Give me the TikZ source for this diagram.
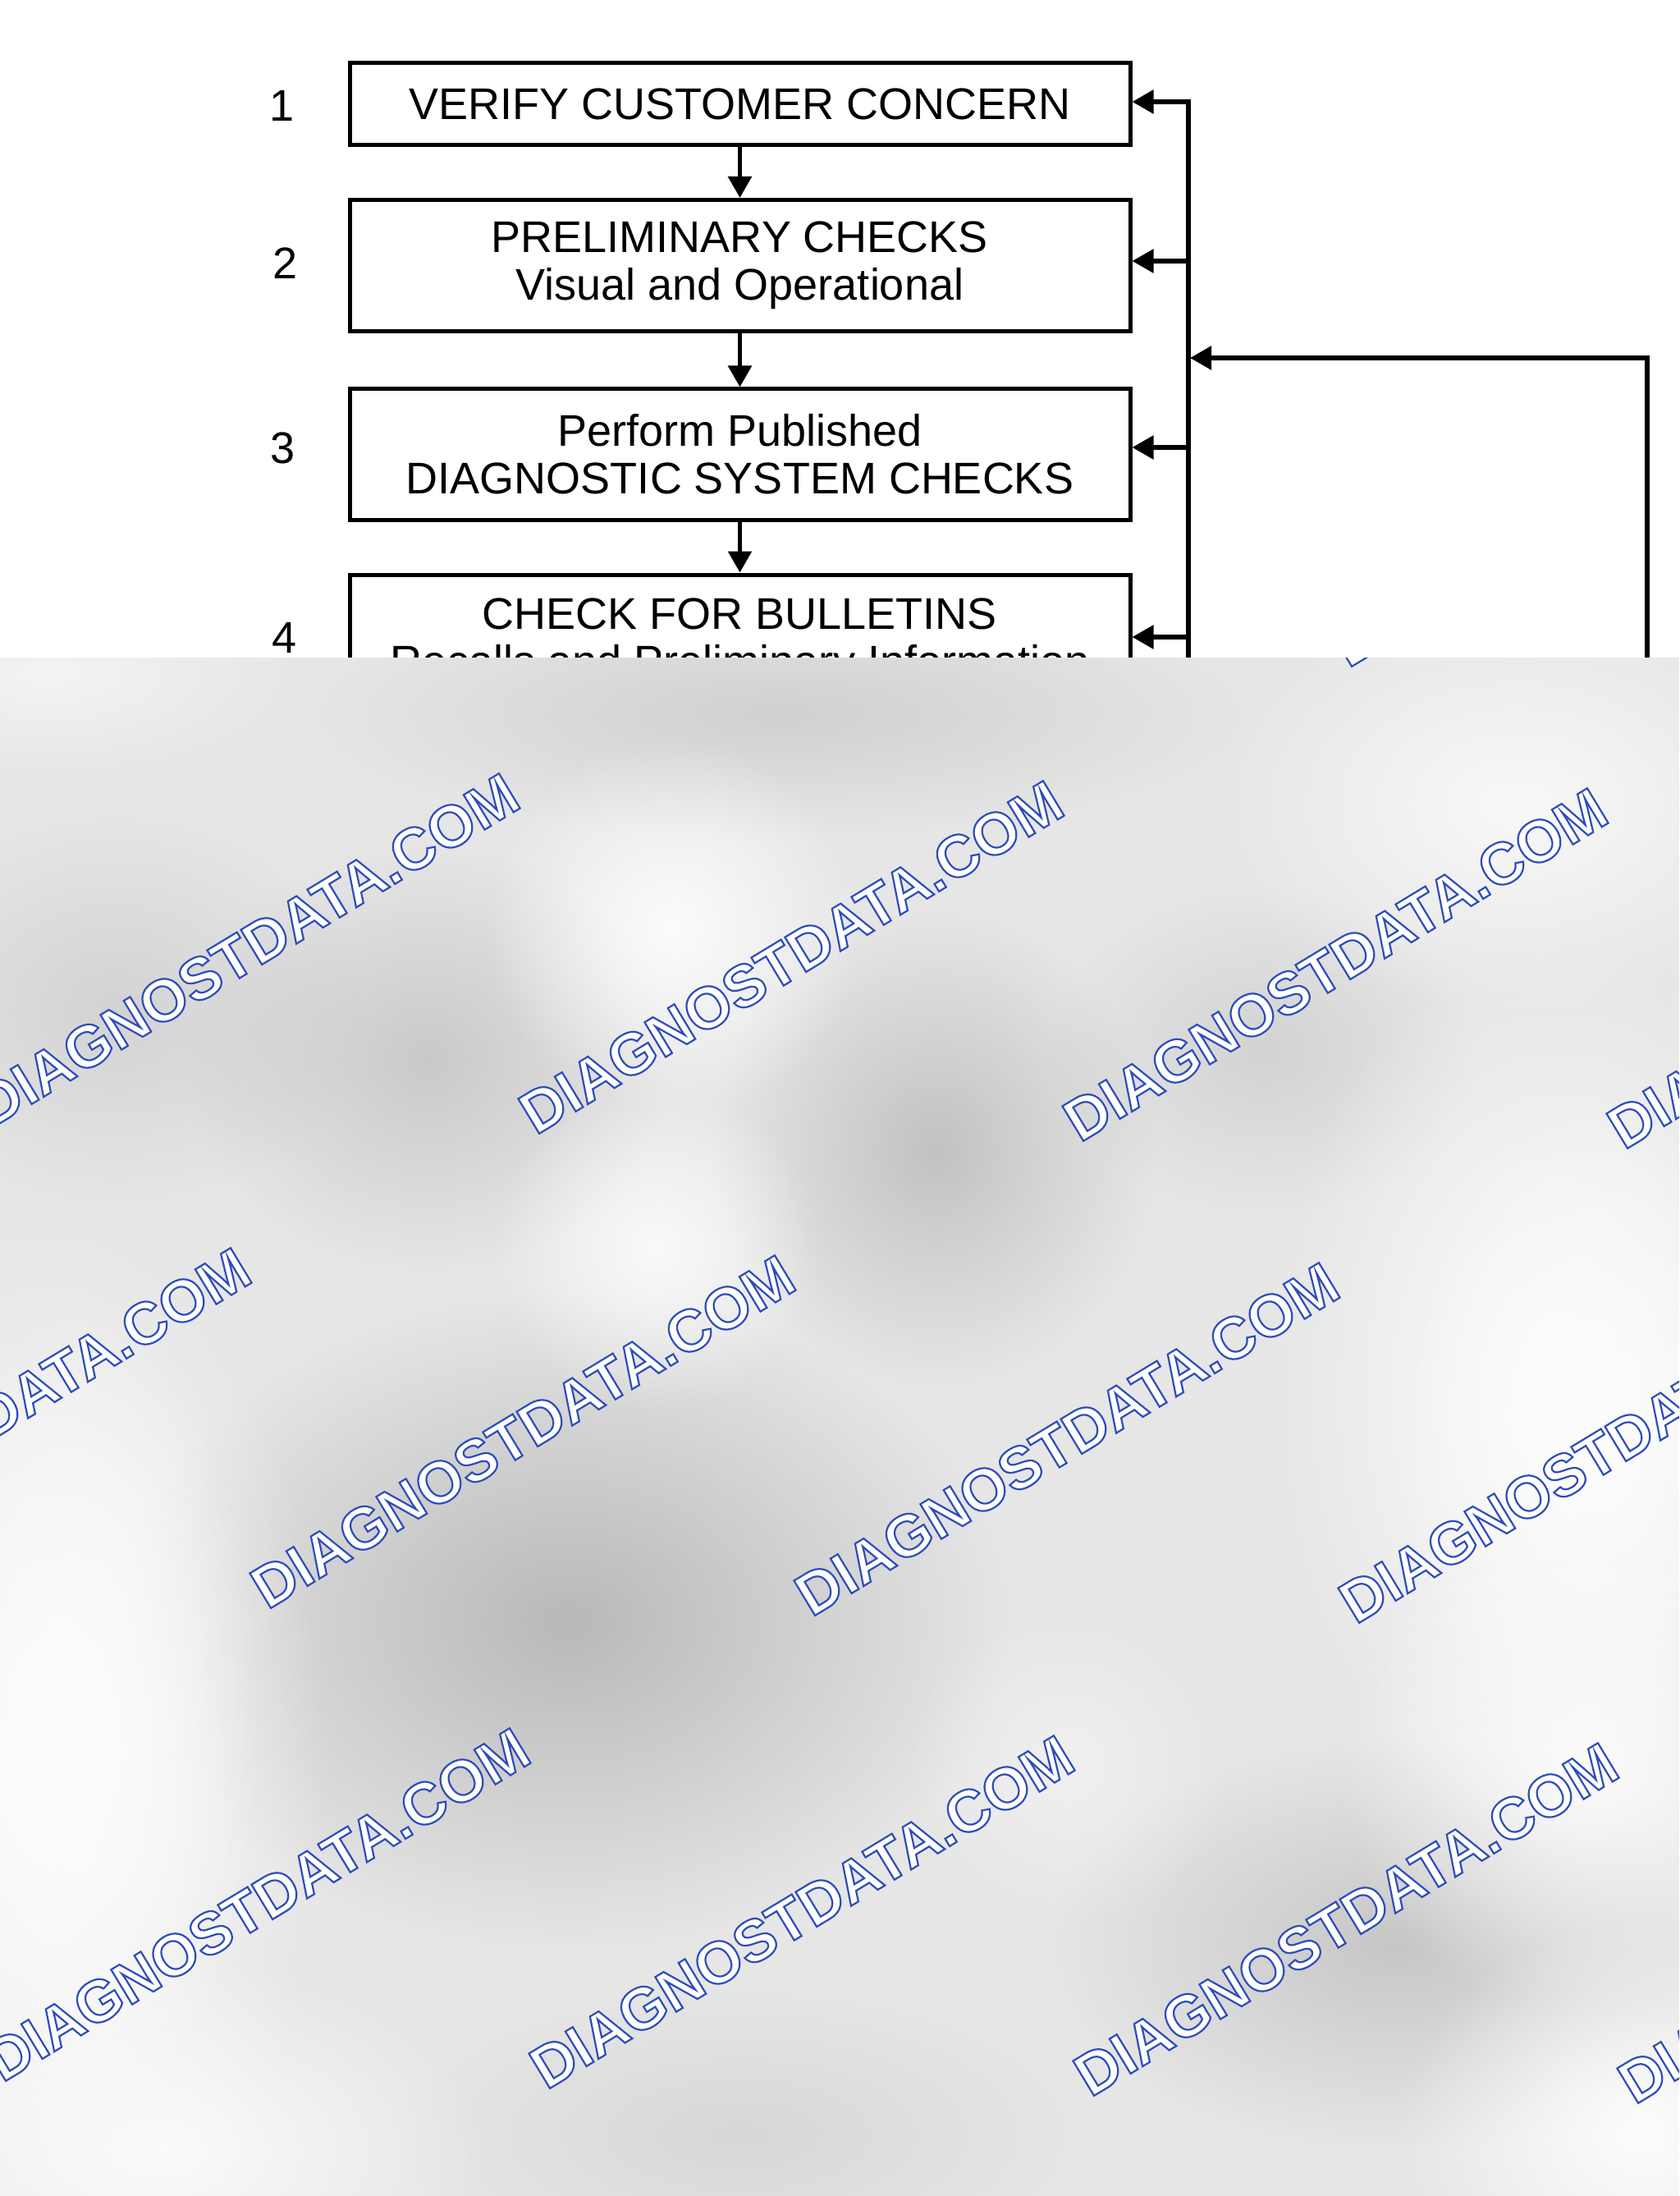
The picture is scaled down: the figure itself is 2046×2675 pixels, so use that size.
\documentclass[tikz,border=0pt]{standalone}
\usepackage{fontspec}
\setmainfont{Liberation Sans}
\usetikzlibrary{arrows.meta,fadings}
\tikzfading[name=blobfade, inner color=transparent!0, outer color=transparent!100]
\definecolor{basegray}{RGB}{230,230,230}
\definecolor{blobdark}{RGB}{182,182,182}
\definecolor{bloblight}{RGB}{253,253,253}
\newcommand{\wmk}[2]{%
  \node[wm] at (#1,#2) {\special{pdf:literal direct 2 Tr 0.55 w 0.18 0.30 0.73 RG 1 1 1 rg}DIAGNOSTDATA.COM\special{pdf:literal direct 0 Tr}};}
\newcommand{\eblob}[6]{\fill[#5, opacity=#6, path fading=blobfade] (#1,#2) ellipse [x radius=#3*0.25pt, y radius=#4*0.25pt];}
\begin{document}
\begin{tikzpicture}[x=0.25pt,y=-0.25pt,
  box/.style={draw, line width=1.25pt, minimum width=237.75pt, inner sep=0pt, align=center, font=\fontsize{13.5}{14.5}\selectfont},
  num/.style={font=\fontsize{13.5}{14.5}\selectfont, inner sep=0pt},
  conn/.style={line width=1.4pt},
  arr/.style={conn, -{Triangle[length=6.5pt,width=7pt]}},
  wm/.style={font=\fontsize{18}{20}\selectfont\bfseries, rotate=31.2, inner sep=0pt},
]
\fill[white] (0,0) rectangle (2046,2675);
\useasboundingbox (0,0) rectangle (2046,2675);

% boxes
\node[box, minimum height=25pt] (b1) at (901.5,127) {VERIFY CUSTOMER CONCERN};
\node[box, minimum height=40pt] (b2) at (901.5,323.5) {PRELIMINARY CHECKS\\Visual and Operational};
\node[box, minimum height=39.75pt] (b3) at (901.5,553.5) {Perform Published\\DIAGNOSTIC SYSTEM CHECKS};
\node[box, minimum height=41pt] (b4) at (901.5,782) {CHECK FOR BULLETINS\\Recalls and Preliminary Information};

% step numbers
\node[num] (n1) at (344,129) {1};
\node[num] (n2) at (348,321) {2};
\node[num] (n3) at (345,546) {3};
\node[num] (n4) at (347,777) {4};

% down arrows
\draw[arr] (b1) -- (b2);
\draw[arr] (b2) -- (b3);
\draw[arr] (b3) -- (b4);

% feedback bus
\coordinate (bustop) at (1448,124);
\coordinate (busbot) at (1448,900);
\coordinate (bus2) at (1448,318);
\coordinate (bus3) at (1448,545);
\coordinate (bus4) at (1448,776);
\draw[arr] (busbot) -- (bustop) -- (bustop -| b1.east);
\draw[arr] (bus2) -- (bus2 -| b2.east);
\draw[arr] (bus3) -- (bus3 -| b3.east);
\draw[arr] (bus4) -- (bus4 -| b4.east);

% outer feedback
\coordinate (rbot) at (2007,900);
\coordinate (rtop) at (2007,436);
\coordinate (busin) at (1450,436);
\draw[arr] (rbot) -- (rtop) -- (busin);

% blurred gray overlay
\begin{scope}
\clip (0,801) rectangle (2046,2675);
\fill[basegray] (0,801) rectangle (2046,2675);
\eblob{692}{1975}{540}{400}{blobdark}{0.95}
\eblob{1140}{1400}{270}{290}{blobdark}{0.75}
\eblob{520}{1290}{300}{260}{blobdark}{0.6}
\eblob{1700}{2370}{420}{250}{blobdark}{0.65}
\eblob{140}{1230}{300}{240}{blobdark}{0.4}
\eblob{950}{870}{580}{150}{blobdark}{0.45}
\eblob{1540}{1280}{260}{200}{blobdark}{0.4}
\eblob{900}{2600}{420}{180}{blobdark}{0.3}
\eblob{820}{1130}{230}{230}{bloblight}{0.95}
\eblob{800}{1520}{200}{200}{bloblight}{0.85}
\eblob{1900}{1700}{360}{560}{bloblight}{1}
\eblob{1950}{1750}{250}{420}{bloblight}{0.9}
\eblob{1930}{2150}{300}{300}{bloblight}{0.9}
\eblob{2000}{2600}{300}{260}{bloblight}{1}
\eblob{60}{2150}{340}{700}{bloblight}{1}
\eblob{90}{2100}{230}{520}{bloblight}{0.9}
\eblob{200}{2620}{400}{240}{bloblight}{0.9}
\eblob{1850}{980}{380}{260}{bloblight}{0.8}
\eblob{1300}{2150}{200}{200}{bloblight}{0.45}
\eblob{60}{820}{320}{130}{bloblight}{0.6}
% watermarks
\wmk{1954}{597}
\wmk{301}{1157}
\wmk{964}{1166}
\wmk{1627}{1175}
\wmk{2290}{1184}
\wmk{-26}{1735}
\wmk{637}{1744}
\wmk{1300}{1753}
\wmk{1963}{1762}
\wmk{314}{2320}
\wmk{977}{2329}
\wmk{1640}{2338}
\wmk{2303}{2347}
\end{scope}
\end{tikzpicture}
\end{document}
